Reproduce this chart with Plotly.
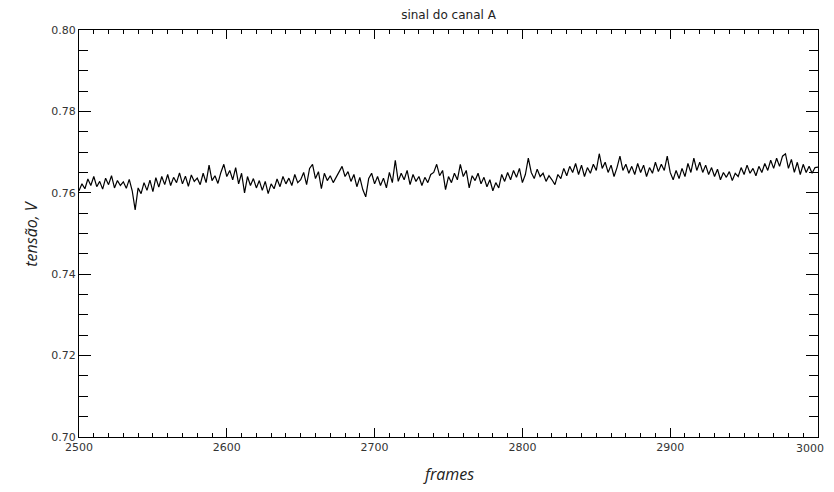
import plotly.graph_objects as go

frame_start = 2500
frame_step = 2

tensao = [
    0.7605, 0.7622, 0.7610, 0.7634, 0.7618, 0.7640, 0.7615, 0.7628, 0.7609, 0.7636,
    0.7620, 0.7642, 0.7612, 0.7630, 0.7618, 0.7627, 0.7611, 0.7633, 0.7605, 0.7558,
    0.7612, 0.7598, 0.7625, 0.7606, 0.7631, 0.7603, 0.7637, 0.7614, 0.7640, 0.7620,
    0.7645, 0.7618, 0.7638, 0.7625, 0.7649, 0.7622, 0.7641, 0.7616, 0.7644, 0.7628,
    0.7636, 0.7620, 0.7648, 0.7625, 0.7668, 0.7630, 0.7642, 0.7623, 0.7650, 0.7670,
    0.7640, 0.7655, 0.7632, 0.7662, 0.7622, 0.7648, 0.7600, 0.7640, 0.7618, 0.7635,
    0.7612, 0.7630, 0.7606, 0.7628, 0.7598, 0.7622, 0.7610, 0.7634, 0.7615, 0.7640,
    0.7622, 0.7636, 0.7618, 0.7645, 0.7625, 0.7632, 0.7650, 0.7620, 0.7660, 0.7670,
    0.7635, 0.7652, 0.7610, 0.7648, 0.7630, 0.7642, 0.7625, 0.7638, 0.7650, 0.7665,
    0.7640, 0.7652, 0.7628, 0.7645, 0.7615, 0.7638, 0.7608, 0.7590, 0.7635, 0.7648,
    0.7622, 0.7640, 0.7618, 0.7636, 0.7612, 0.7650, 0.7625, 0.7680, 0.7628, 0.7648,
    0.7632, 0.7655, 0.7620, 0.7645, 0.7628, 0.7640, 0.7618, 0.7638, 0.7625, 0.7645,
    0.7650, 0.7670, 0.7642, 0.7655, 0.7608, 0.7640, 0.7625, 0.7648, 0.7632, 0.7670,
    0.7640, 0.7655, 0.7612, 0.7642, 0.7630, 0.7648, 0.7622, 0.7638, 0.7615, 0.7632,
    0.7605, 0.7625, 0.7612, 0.7645, 0.7628, 0.7650, 0.7632, 0.7655, 0.7638, 0.7660,
    0.7625, 0.7645, 0.7685, 0.7650, 0.7635, 0.7658, 0.7640, 0.7648, 0.7628, 0.7642,
    0.7632, 0.7620, 0.7645, 0.7635, 0.7660, 0.7642, 0.7665, 0.7650, 0.7672, 0.7645,
    0.7668, 0.7640, 0.7662, 0.7648, 0.7670, 0.7655, 0.7696, 0.7660, 0.7675, 0.7650,
    0.7668, 0.7640, 0.7662, 0.7690, 0.7655, 0.7670, 0.7648, 0.7665, 0.7645, 0.7672,
    0.7650, 0.7668, 0.7640, 0.7662, 0.7648, 0.7675, 0.7652, 0.7670, 0.7655, 0.7690,
    0.7650, 0.7632, 0.7655, 0.7635, 0.7660, 0.7640, 0.7672, 0.7650, 0.7685, 0.7655,
    0.7675, 0.7650, 0.7668, 0.7645, 0.7662, 0.7640, 0.7658, 0.7632, 0.7650, 0.7638,
    0.7652, 0.7630, 0.7648, 0.7640, 0.7662, 0.7645, 0.7668, 0.7648, 0.7660, 0.7642,
    0.7665, 0.7650, 0.7672, 0.7655, 0.7680, 0.7660, 0.7685, 0.7665, 0.7690, 0.7696,
    0.7660, 0.7682, 0.7650, 0.7675, 0.7645, 0.7670, 0.7650, 0.7665, 0.7648, 0.7662,
    0.7663,
]
frames = [frame_start + frame_step * i for i in range(len(tensao))]

x_ticks = [2500, 2600, 2700, 2800, 2900, 3000]
x_ticktext = ["2500", "2600", "2700", "2800", "2900", ""]
last_x_label = "3000"
y_ticks = [0.70, 0.72, 0.74, 0.76, 0.78, 0.80]

fig = go.Figure()
fig.add_trace(go.Scatter(x=frames, y=tensao, mode="lines",
                         line=dict(color="black", width=1.2)))

tickfont = dict(family="DejaVu Sans", size=11, color="#333333")
titlefont = dict(family="Open Sans", size=16, color="#222222")
fig.update_layout(
    width=826, height=476,
    margin=dict(l=71, r=16, t=22, b=47, autoexpand=False),
    paper_bgcolor="white", plot_bgcolor="white",
    showlegend=False,
    title=dict(text="sinal do canal A", xref="paper", x=0.5, xanchor="center",
               y=0.985, yanchor="middle",
               font=dict(family="DejaVu Sans", size=12, color="#222222")),
    xaxis=dict(range=[2500, 3000], tickvals=x_ticks, ticktext=x_ticktext,
               ticks="inside", ticklen=9, tickwidth=1, tickcolor="black",
               showline=True, linecolor="black", linewidth=1, mirror="ticks",
               showgrid=False, zeroline=False, tickfont=tickfont, automargin=False,
               minor=dict(dtick=10, tick0=2500, ticks="inside", ticklen=4,
                          tickcolor="black", showgrid=False)),
    yaxis=dict(range=[0.70, 0.80], tickvals=y_ticks, ticktext=[f"{v:.2f}" for v in y_ticks],
               ticks="inside", ticklen=12, tickwidth=1, tickcolor="black",
               showline=True, linecolor="black", linewidth=1, mirror="ticks",
               showgrid=False, zeroline=False, tickfont=tickfont, automargin=False,
               minor=dict(dtick=0.005, tick0=0.70, ticks="inside", ticklen=9,
                          tickcolor="black", showgrid=False)),
    annotations=[
        dict(text=last_x_label, xref="x", yref="paper", x=x_ticks[-1], y=0,
             xanchor="right", yanchor="middle", xshift=8, yshift=-11,
             showarrow=False, font=tickfont),
        dict(text="<i>frames</i>", xref="paper", yref="paper", x=0.5, y=-0.092,
             xanchor="center", yanchor="middle", showarrow=False, font=titlefont),
        dict(text="<i>tensão, V</i>", xref="paper", yref="paper", x=-0.066, y=0.5,
             xanchor="center", yanchor="middle", textangle=-90, showarrow=False, font=titlefont),
    ],
)

fig.write_html("out.html")
